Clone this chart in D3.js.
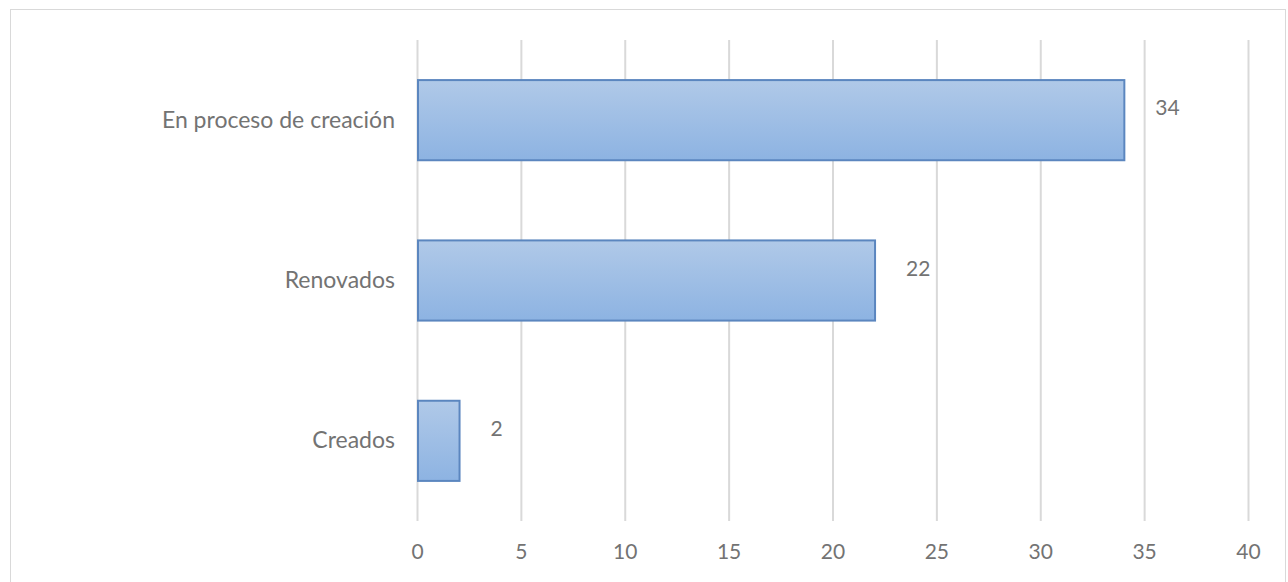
<!DOCTYPE html>
<html><head><meta charset="utf-8">
<script src="https://cdn.jsdelivr.net/npm/d3@7"></script>
<style>body{margin:0;background:#fff}svg{display:block}text{font-family:Lato,"Open Sans",sans-serif}</style>
</head><body>
<script>
const categories = ["En proceso de creación", "Renovados", "Creados"];
const values = [34, 22, 2];
const ticks = [0, 5, 10, 15, 20, 25, 30, 35, 40];

const W = 1288, H = 582;
const txt = "#737373";
const svg = d3.select("body").append("svg").attr("width", W).attr("height", H);
const defs = svg.append("defs");
const g = defs.append("linearGradient").attr("id", "bg").attr("x1", 0).attr("y1", 0).attr("x2", 0).attr("y2", 1);
g.append("stop").attr("offset", "0%").attr("stop-color", "#b0c9e8");
g.append("stop").attr("offset", "100%").attr("stop-color", "#8db3e2");

svg.append("rect").attr("x", 10.5).attr("y", 9.5).attr("width", 1275).attr("height", 580)
  .attr("fill", "#fff").attr("stroke", "#d9d9d9").attr("stroke-width", 1);

const x = d3.scaleLinear().domain([0, 40]).range([417, 1248]);
const y = d3.scaleBand().domain(categories).range([40, 521]).paddingInner(0.5).paddingOuter(0.25);

// grid
const grid = svg.append("g").attr("transform", "translate(0,521)")
  .call(d3.axisBottom(x).tickValues(ticks).tickSize(-481).tickFormat(""));
grid.select(".domain").remove();
grid.selectAll("line").attr("stroke", "#d9d9d9").attr("stroke-width", 2);

// x tick labels
const xa = svg.append("g").attr("transform", "translate(0,521)")
  .call(d3.axisBottom(x).tickValues(ticks).tickSize(0).tickPadding(23));
xa.select(".domain").remove();
xa.selectAll("text").style("font-size", "21px").style("font-family", "Lato").attr("fill", txt);

// y labels
const ya = svg.append("g").attr("transform", "translate(417,0)")
  .call(d3.axisLeft(y).tickSize(0).tickPadding(22));
ya.select(".domain").remove();
ya.selectAll("text").style("font-size", "23px").style("font-family", "Lato").attr("fill", txt);

// bars
svg.selectAll("rect.bar").data(values).enter().append("rect").attr("class", "bar")
  .attr("x", x(0) + 1).attr("y", (d, i) => y(categories[i]))
  .attr("width", d => x(d) - x(0)).attr("height", y.bandwidth())
  .attr("fill", "url(#bg)").attr("stroke", "#5b86bf").attr("stroke-width", 2);

// value labels
svg.selectAll("text.val").data(values).enter().append("text").attr("class", "val")
  .attr("x", d => x(d) + 32).attr("y", (d, i) => y(categories[i]) + y.bandwidth() / 2 - 10)
  .attr("dominant-baseline", "middle").attr("fill", txt).style("font-size", "21px").text(d => d);
</script>
</body></html>
